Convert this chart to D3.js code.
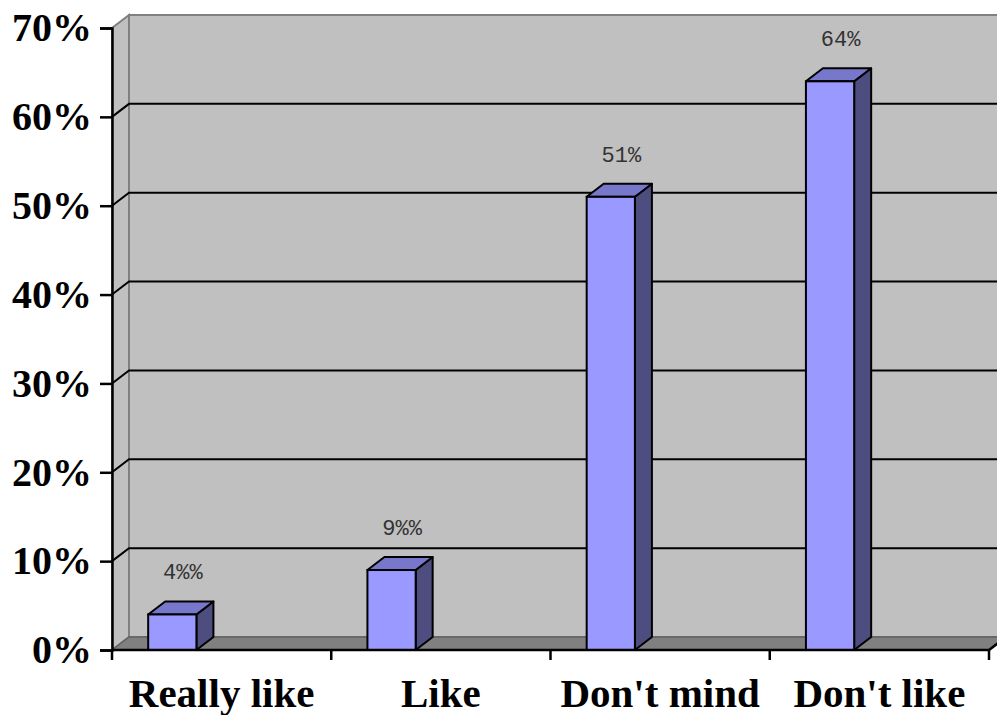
<!DOCTYPE html>
<html><head><meta charset="utf-8">
<script src="https://cdn.jsdelivr.net/npm/d3@7"></script>
<style>html,body{margin:0;padding:0;background:#fff;}svg{display:block;}</style>
</head><body>
<svg id="c" width="997" height="715"></svg>
<script>
const categories = ["Really like", "Like", "Don't mind", "Don't like"];
const values = [0.04, 0.09, 0.51, 0.64];
const valueLabels = ["4%%", "9%%", "51%", "64%"];
const yTicks = [0, 0.1, 0.2, 0.3, 0.4, 0.5, 0.6, 0.7];

const svg = d3.select("#c");
const DX = 17, DY = -13;
const y = d3.scaleLinear().domain([0, 0.7]).range([650, 28]);
const x = d3.scaleBand().domain(categories).range([112, 989]).padding(0);
const bw = x.bandwidth();
const x0 = 112, x1 = 989;

// side wall
svg.append("path")
  .attr("d", `M${x0},${y(0)} L${x0},${y(0.7)} L${x0+DX},${y(0.7)+DY} L${x0+DX},${y(0)+DY} Z`)
  .attr("fill", "#c0c0c0").attr("stroke", "#808080").attr("stroke-width", 2);
// back wall
svg.append("rect")
  .attr("x", x0+DX).attr("y", y(0.7)+DY).attr("width", 1000).attr("height", y(0)-y(0.7))
  .attr("fill", "#c0c0c0").attr("stroke", "#808080").attr("stroke-width", 2);
// floor
svg.append("path")
  .attr("d", `M${x0},${y(0)} L${x1},${y(0)} L${x1+DX},${y(0)+DY} L${x0+DX},${y(0)+DY} Z`)
  .attr("fill", "#808080").attr("stroke", "#606060").attr("stroke-width", 1.5);

// gridlines
const grid = yTicks.filter(t => t > 0 && t < 0.7);
svg.append("g").selectAll("path").data(grid).join("path")
  .attr("d", t => `M${x0},${y(t)} L${x0+DX},${y(t)+DY} L1000,${y(t)+DY}`)
  .attr("fill", "none").attr("stroke", "#000").attr("stroke-width", 2);

// bars
const bars = svg.append("g").selectAll("g").data(categories).join("g");
const bx = (c) => x(c) + 0.165 * bw;
const bwid = 0.22 * bw;
bars.append("path") // side
  .attr("d", (c, i) => {
    const l = bx(c) + bwid, t = y(values[i]), b = y(0);
    return `M${l},${b} L${l},${t} L${l+DX},${t+DY} L${l+DX},${b+DY} Z`;
  })
  .attr("fill", "#4d4d80").attr("stroke", "#000").attr("stroke-width", 2).attr("stroke-linejoin", "round");
bars.append("path") // top
  .attr("d", (c, i) => {
    const l = bx(c), t = y(values[i]);
    return `M${l},${t} L${l+DX},${t+DY} L${l+bwid+DX},${t+DY} L${l+bwid},${t} Z`;
  })
  .attr("fill", "#7777cc").attr("stroke", "#000").attr("stroke-width", 2).attr("stroke-linejoin", "round");
bars.append("rect") // front
  .attr("x", c => bx(c)).attr("y", (c, i) => y(values[i]))
  .attr("width", bwid).attr("height", (c, i) => y(0) - y(values[i]))
  .attr("fill", "#9999ff").attr("stroke", "#000").attr("stroke-width", 2);

// value labels
bars.append("text")
  .attr("x", c => bx(c) + bwid/2 + DX/2 + 2)
  .attr("y", (c, i) => y(values[i]) + DY - 22)
  .attr("text-anchor", "middle")
  .attr("font-family", "'Liberation Mono', 'DejaVu Sans Mono', monospace")
  .attr("font-size", 22).attr("fill", "#333")
  .text((c, i) => valueLabels[i]);

// y axis
const yAxis = svg.append("g").attr("transform", `translate(${x0},0)`)
  .call(d3.axisLeft(y).tickValues(yTicks).tickFormat(d3.format(".0%")).tickSize(12).tickPadding(8));
yAxis.select(".domain").attr("stroke", "#000").attr("stroke-width", 2.5);
yAxis.selectAll(".tick line").attr("stroke", "#000").attr("stroke-width", 2.5);
yAxis.selectAll(".tick text")
  .attr("font-family", "'Liberation Serif', 'Times New Roman', serif")
  .attr("font-weight", "bold").attr("font-size", 40).attr("fill", "#000");

// x axis
svg.append("path")
  .attr("d", `M${x0},${y(0)} L${x1},${y(0)} L${x1+DX},${y(0)+DY}`)
  .attr("fill", "none").attr("stroke", "#000").attr("stroke-width", 2.5);
const bounds = categories.map(c => x(c)).concat([x1]);
svg.append("g").selectAll("line").data(bounds).join("line")
  .attr("x1", d => d).attr("x2", d => d).attr("y1", y(0)).attr("y2", y(0) + 10)
  .attr("stroke", "#000").attr("stroke-width", 2.5);
const xAxis = svg.append("g").attr("transform", `translate(0,${y(0)})`)
  .call(d3.axisBottom(x).tickSize(0).tickPadding(28));
xAxis.select(".domain").remove();
xAxis.selectAll(".tick text")
  .attr("font-family", "'Liberation Serif', 'Times New Roman', serif")
  .attr("font-weight", "bold").attr("font-size", 41).attr("fill", "#000");
</script>
</body></html>
